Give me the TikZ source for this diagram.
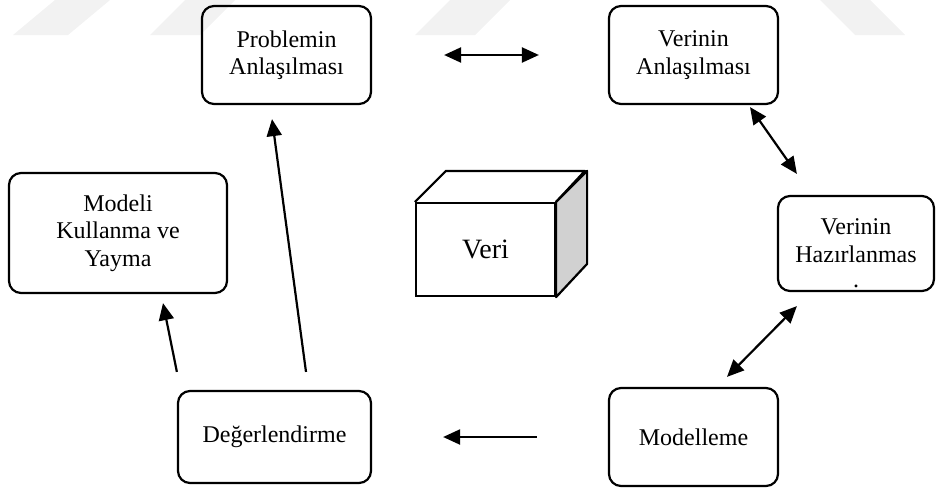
\documentclass[tikz,border=0pt]{standalone}
\usepackage{fontspec}
\setmainfont{Liberation Serif}
\usetikzlibrary{calc}
\usetikzlibrary{arrows.meta}
\newcommand*{\bwd}{84.5pt}
\newcommand*{\bht}{49pt}
\newcommand*{\dpt}{31}
\newcommand*{\tip}{Triangle[length=8.5pt,width=7.5pt]}

\tikzset{
    box/.style  = {draw, line width=1.1pt, rounded corners=6pt, align=center, inner sep=2pt,
                   minimum width=\bwd, minimum height=\bht},
    arr/.style  = {line width=1.1pt, -{\tip}},
    dbl/.style  = {line width=1.1pt, {\tip}-{\tip}},
    wmark/.style = {fill=black!5, draw=none},
}

\begin{document}
\begin{tikzpicture}[x=0.5pt, y=-0.5pt, font=\fontsize{12}{13.75}\selectfont]
        \useasboundingbox (0,0) rectangle (936,488);
        % faint watermark along the top
        \fill [wmark] (13,35) -- (55,0) -- (110,0) -- (68,35) -- cycle;
        \fill [wmark] (150,35) -- (185,0) -- (235,0) -- (200,35) -- cycle;
        \fill [wmark] (415,35) -- (450,0) -- (510,0) -- (475,35) -- cycle;
        \fill [wmark] (820,0) -- (870,0) -- (905,35) -- (855,35) -- cycle;

        \node [box] (prob) at (286.5,55) {Problemin\\Anlaşılması};
        \node [box] (vanl) at (693.5,55) {Verinin\\Anlaşılması};
        \node [box, minimum width=78pt, minimum height=47.5pt] (vhaz) at (856,243.5) {};
        \node [align=center] (vhaztxt) at ($(vhaz)+(0,10)$) {Verinin\\Hazırlanmas\\[-1pt].};
        \node [box, minimum width=109pt, minimum height=60pt] (model) at (118,233) {Modeli\\Kullanma ve\\Yayma};
        \node [box, minimum width=96.5pt, minimum height=46pt] (deg) at (274.5,437) {Değerlendirme};
        \node [box] (mod) at (693.5,437) {Modelleme};

        % the data cube
        \node [draw, line width=1.1pt, minimum width=69.5pt, minimum height=46.5pt, font=\fontsize{14}{16}\selectfont] (veri) at (485.5,249.5) {Veri};
        \draw [line width=1.1pt, line join=round] (veri.north west) -- ++(\dpt,-\dpt) -- ++(139,0) -- (veri.north east);
        \draw [line width=1.1pt, line join=round, fill=black!18] (veri.north east) -- ++(\dpt,-\dpt) -- ++(0,93) -- (veri.south east) -- cycle;

        \draw [dbl, shorten <=36pt, shorten >=34.5pt] (prob) -- (vanl);
        \draw [dbl] ($(vanl.south)+(56.5,2)$) -- ($(vhaz.north west)+(20,-21)$);
        \draw [dbl] ($(vhaz.south west)+(20,14)$) -- ($(mod.north)+(33.5,-10)$);
        \draw [arr, shorten <=35.5pt, shorten >=35.5pt] (mod) -- (deg);
        \draw [arr] ($(deg.north)+(31.5,-18)$) -- ($(prob.south)+(-14.5,14)$);
        \draw [arr] ($(deg.north west)+(0,-18)$) -- ($(model.south)+(45,9)$);
    \end{tikzpicture}
\end{document}
